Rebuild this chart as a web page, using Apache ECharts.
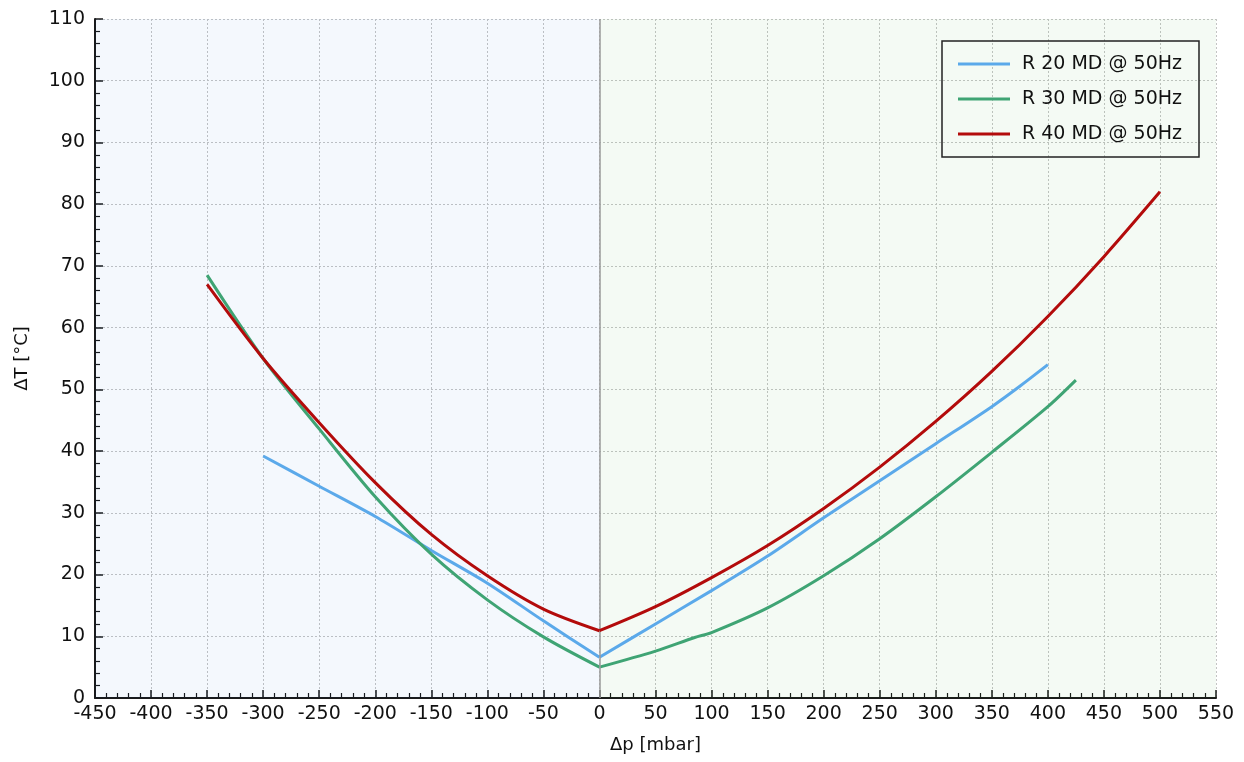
<!DOCTYPE html>
<html>
<head>
<meta charset="utf-8">
<script src="https://cdn.jsdelivr.net/npm/echarts@6/dist/echarts.min.js"></script>
<style>
  html, body { margin: 0; padding: 0; background: #fff; }
  #chart { width: 1244px; height: 762px; }
</style>
</head>
<body>
<div id="chart"></div>
<script>
// 数据：每条曲线分左右两支（Δp<0 / Δp>=0），在0处有折点
const seriesNames = ['R 20 MD @ 50Hz', 'R 30 MD @ 50Hz', 'R 40 MD @ 50Hz']
const seriesColors = ['#5ba9ea', '#3fa474', '#b30b0b']

const r20LeftX = [-300, -250, -200, -150, -100, -50, 0]
const r20LeftY = [39.2, 34.3, 29.4, 23.9, 18.6, 12.5, 6.6]
const r20RightX = [0, 50, 100, 150, 200, 250, 300, 350, 375, 400]
const r20RightY = [6.6, 12.0, 17.4, 23.0, 29.2, 35.2, 41.2, 47.2, 50.5, 54.0]

const r30LeftX = [-350, -300, -250, -200, -150, -100, -50, 0]
const r30LeftY = [68.5, 55.0, 43.6, 32.6, 23.3, 15.9, 9.9, 5.0]
const r30RightX = [0, 50, 85, 100, 150, 200, 250, 300, 350, 400, 425]
const r30RightY = [5.0, 7.6, 9.8, 10.6, 14.6, 19.8, 25.8, 32.6, 39.8, 47.2, 51.5]

const r40LeftX = [-350, -300, -250, -200, -150, -100, -50, 0]
const r40LeftY = [67.0, 55.0, 44.6, 34.9, 26.5, 19.8, 14.4, 10.9]
const r40RightX = [0, 50, 100, 150, 200, 250, 300, 350, 400, 450, 500]
const r40RightY = [10.9, 14.8, 19.5, 24.7, 30.7, 37.4, 44.8, 52.9, 61.8, 71.5, 82.0]

const xTicksMin = -450
const xTicksMax = 550
const yTicksMin = 0
const yTicksMax = 110

const zip = (xs, ys) => xs.map((x, i) => [x, ys[i]])

const branches = [
  [r20LeftX, r20LeftY, 0], [r20RightX, r20RightY, 0],
  [r30LeftX, r30LeftY, 1], [r30RightX, r30RightY, 1],
  [r40LeftX, r40LeftY, 2], [r40RightX, r40RightY, 2]
]

const fontFamily = 'DejaVu Sans'
const axisColor = '#1a1a1a'

const lineSeries = branches.map(([xs, ys, idx]) => ({
  name: seriesNames[idx],
  type: 'line',
  data: zip(xs, ys),
  smooth: 0.3,
  showSymbol: false,
  symbol: 'none',
  color: seriesColors[idx],
  lineStyle: { width: 3, color: seriesColors[idx] },
  z: 3 + idx,
  animation: false
}))

// 背景区域 + 0处竖线
const bgSeries = {
  name: 'bg',
  type: 'line',
  data: [],
  silent: true,
  markArea: {
    silent: true,
    data: [
      [{ xAxis: xTicksMin, itemStyle: { color: 'rgba(0,90,220,0.045)' } }, { xAxis: 0 }],
      [{ xAxis: 0, itemStyle: { color: 'rgba(40,150,30,0.05)' } }, { xAxis: xTicksMax }]
    ]
  },
  markLine: {
    silent: true,
    symbol: 'none',
    label: { show: false },
    lineStyle: { color: '#9a9a9a', width: 1.5, type: 'solid' },
    data: [{ xAxis: 0 }]
  }
}

const chart = echarts.init(document.getElementById('chart'))
chart.setOption({
  backgroundColor: '#ffffff',
  animation: false,
  textStyle: { fontFamily: fontFamily },
  grid: { left: 95, right: 28, top: 19, bottom: 64 },
  legend: {
    data: seriesNames,
    orient: 'vertical',
    left: 942,
    top: 41,
    padding: [13, 17, 13, 16],
    itemGap: 15,
    itemWidth: 52,
    itemHeight: 3,
    icon: 'rect',
    backgroundColor: 'rgba(255,255,255,0)',
    borderColor: '#222',
    borderWidth: 1.5,
    textStyle: { fontSize: 19, color: '#111', fontFamily: fontFamily, padding: [0, 0, 0, 7], lineHeight: 20 }
  },
  xAxis: {
    type: 'value',
    min: xTicksMin,
    max: xTicksMax,
    interval: 50,
    name: 'Δp [mbar]',
    nameLocation: 'middle',
    nameGap: 38,
    nameTextStyle: { fontSize: 18, color: '#111', fontFamily: fontFamily },
    axisLine: { onZero: false, lineStyle: { color: axisColor, width: 2 } },
    axisTick: { show: true, inside: true, length: 8, lineStyle: { color: axisColor, width: 1.5 } },
    minorTick: { show: true, splitNumber: 5, length: 5, lineStyle: { color: axisColor, width: 1.2 } },
    axisLabel: { fontSize: 19, color: '#111', margin: 7, fontFamily: fontFamily },
    splitLine: { show: true, lineStyle: { color: '#c4c4c4', width: 1, type: [2, 2] } }
  },
  yAxis: {
    type: 'value',
    min: yTicksMin,
    max: yTicksMax,
    interval: 10,
    name: 'ΔT [°C]',
    nameLocation: 'middle',
    nameGap: 64,
    nameTextStyle: { fontSize: 18, color: '#111', fontFamily: fontFamily },
    axisLine: { show: true, onZero: false, lineStyle: { color: axisColor, width: 2 } },
    axisTick: { show: true, inside: true, length: 8, lineStyle: { color: axisColor, width: 1.5 } },
    minorTick: { show: true, splitNumber: 5, length: 5, lineStyle: { color: axisColor, width: 1.2 } },
    axisLabel: { fontSize: 19, color: '#111', margin: 10, fontFamily: fontFamily },
    splitLine: { show: true, lineStyle: { color: '#c4c4c4', width: 1, type: [2, 2] } }
  },
  series: [bgSeries].concat(lineSeries)
})
</script>
</body>
</html>
